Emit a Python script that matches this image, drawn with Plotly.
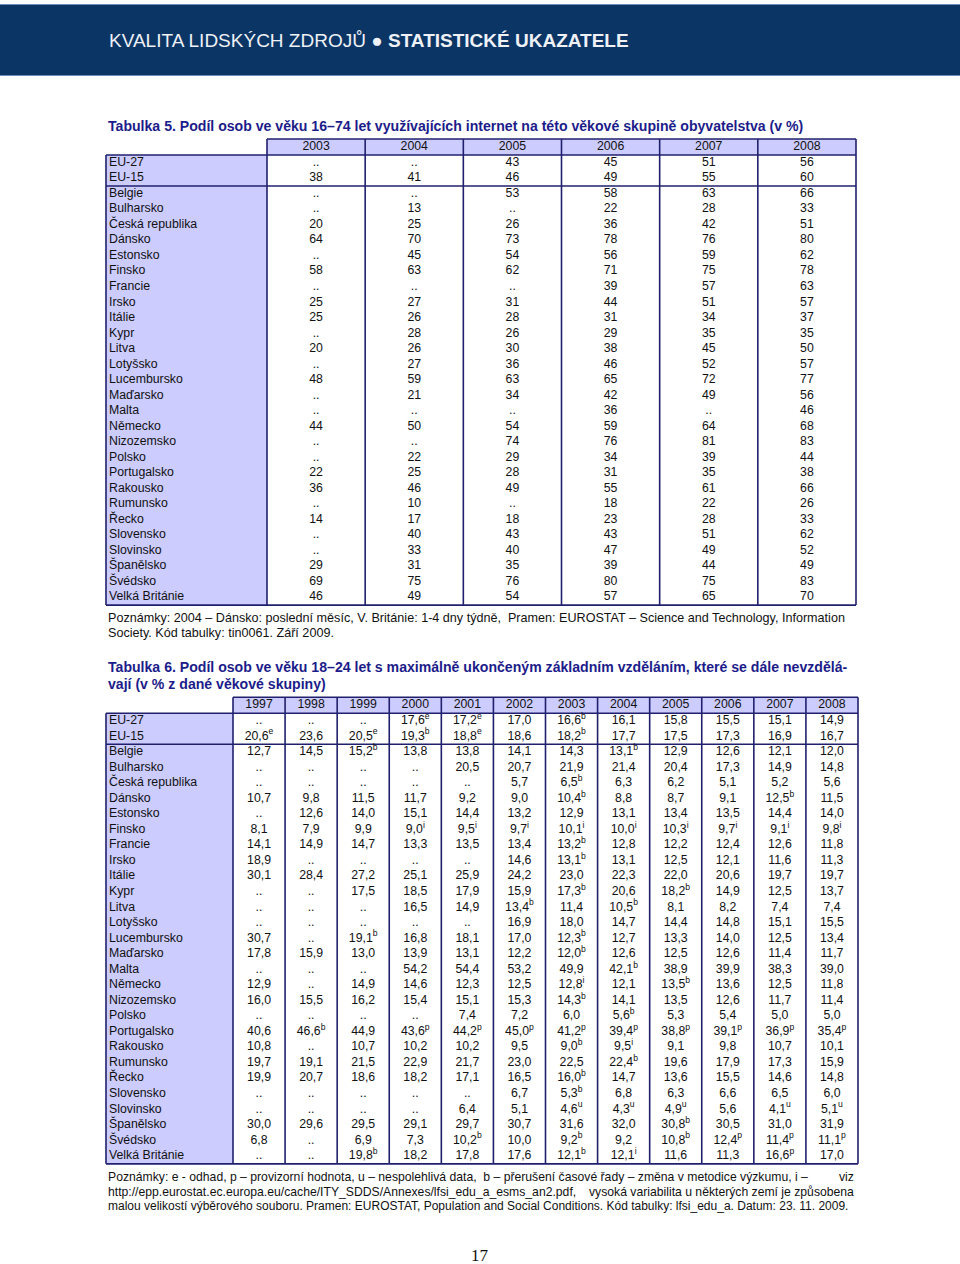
import plotly.graph_objects as go

W, H = 960, 1264
NAVY = "#20206e"
LAVENDER = "#ccccff"
TITLE_BLUE = "#1c1c8a"
BAND = "#0b3565"
INK = "#111111"
SANS = "Liberation Sans, Arial, sans-serif"

countries = [
    "EU-27", "EU-15", "Belgie", "Bulharsko", "Česká republika", "Dánsko",
    "Estonsko", "Finsko", "Francie", "Irsko", "Itálie", "Kypr", "Litva",
    "Lotyšsko", "Lucembursko", "Maďarsko", "Malta", "Německo", "Nizozemsko",
    "Polsko", "Portugalsko", "Rakousko", "Rumunsko", "Řecko", "Slovensko",
    "Slovinsko", "Španělsko", "Švédsko", "Velká Británie",
]

# Tabulka 5 - internet users 16-74 (%), None = ".."
t5_years = ["2003", "2004", "2005", "2006", "2007", "2008"]
net_2003 = [None, 38, None, None, 20, 64, None, 58, None, 25, 25, None, 20, None, 48,
            None, None, 44, None, None, 22, 36, None, 14, None, None, 29, 69, 46]
net_2004 = [None, 41, None, 13, 25, 70, 45, 63, None, 27, 26, 28, 26, 27, 59,
            21, None, 50, None, 22, 25, 46, 10, 17, 40, 33, 31, 75, 49]
net_2005 = [43, 46, 53, None, 26, 73, 54, 62, None, 31, 28, 26, 30, 36, 63,
            34, None, 54, 74, 29, 28, 49, None, 18, 43, 40, 35, 76, 54]
net_2006 = [45, 49, 58, 22, 36, 78, 56, 71, 39, 44, 31, 29, 38, 46, 65,
            42, 36, 59, 76, 34, 31, 55, 18, 23, 43, 47, 39, 80, 57]
net_2007 = [51, 55, 63, 28, 42, 76, 59, 75, 57, 51, 34, 35, 45, 52, 72,
            49, None, 64, 81, 39, 35, 61, 22, 28, 51, 49, 44, 75, 65]
net_2008 = [56, 60, 66, 33, 51, 80, 62, 78, 63, 57, 37, 35, 50, 57, 77,
            56, 46, 68, 83, 44, 38, 66, 26, 33, 62, 52, 49, 83, 70]

# Tabulka 6 - early school leavers 18-24 (%), trailing letter = note flag
t6_years = ["1997", "1998", "1999", "2000", "2001", "2002",
            "2003", "2004", "2005", "2006", "2007", "2008"]
edu_1997 = ["..", "20,6e", "12,7", "..", "..", "10,7", "..", "8,1", "14,1", "18,9", "30,1", "..", "..", "..", "30,7",
            "17,8", "..", "12,9", "16,0", "..", "40,6", "10,8", "19,7", "19,9", "..", "..", "30,0", "6,8", ".."]
edu_1998 = ["..", "23,6", "14,5", "..", "..", "9,8", "12,6", "7,9", "14,9", "..", "28,4", "..", "..", "..", "..",
            "15,9", "..", "..", "15,5", "..", "46,6b", "..", "19,1", "20,7", "..", "..", "29,6", "..", ".."]
edu_1999 = ["..", "20,5e", "15,2b", "..", "..", "11,5", "14,0", "9,9", "14,7", "..", "27,2", "17,5", "..", "..", "19,1b",
            "13,0", "..", "14,9", "16,2", "..", "44,9", "10,7", "21,5", "18,6", "..", "..", "29,5", "6,9", "19,8b"]
edu_2000 = ["17,6e", "19,3b", "13,8", "..", "..", "11,7", "15,1", "9,0i", "13,3", "..", "25,1", "18,5", "16,5", "..", "16,8",
            "13,9", "54,2", "14,6", "15,4", "..", "43,6p", "10,2", "22,9", "18,2", "..", "..", "29,1", "7,3", "18,2"]
edu_2001 = ["17,2e", "18,8e", "13,8", "20,5", "..", "9,2", "14,4", "9,5i", "13,5", "..", "25,9", "17,9", "14,9", "..", "18,1",
            "13,1", "54,4", "12,3", "15,1", "7,4", "44,2p", "10,2", "21,7", "17,1", "..", "6,4", "29,7", "10,2b", "17,8"]
edu_2002 = ["17,0", "18,6", "14,1", "20,7", "5,7", "9,0", "13,2", "9,7i", "13,4", "14,6", "24,2", "15,9", "13,4b", "16,9", "17,0",
            "12,2", "53,2", "12,5", "15,3", "7,2", "45,0p", "9,5", "23,0", "16,5", "6,7", "5,1", "30,7", "10,0", "17,6"]
edu_2003 = ["16,6b", "18,2b", "14,3", "21,9", "6,5b", "10,4b", "12,9", "10,1i", "13,2b", "13,1b", "23,0", "17,3b", "11,4", "18,0", "12,3b",
            "12,0b", "49,9", "12,8i", "14,3b", "6,0", "41,2p", "9,0b", "22,5", "16,0b", "5,3b", "4,6u", "31,6", "9,2b", "12,1b"]
edu_2004 = ["16,1", "17,7", "13,1b", "21,4", "6,3", "8,8", "13,1", "10,0i", "12,8", "13,1", "22,3", "20,6", "10,5b", "14,7", "12,7",
            "12,6", "42,1b", "12,1", "14,1", "5,6b", "39,4p", "9,5i", "22,4b", "14,7", "6,8", "4,3u", "32,0", "9,2", "12,1i"]
edu_2005 = ["15,8", "17,5", "12,9", "20,4", "6,2", "8,7", "13,4", "10,3i", "12,2", "12,5", "22,0", "18,2b", "8,1", "14,4", "13,3",
            "12,5", "38,9", "13,5b", "13,5", "5,3", "38,8p", "9,1", "19,6", "13,6", "6,3", "4,9u", "30,8b", "10,8b", "11,6"]
edu_2006 = ["15,5", "17,3", "12,6", "17,3", "5,1", "9,1", "13,5", "9,7i", "12,4", "12,1", "20,6", "14,9", "8,2", "14,8", "14,0",
            "12,6", "39,9", "13,6", "12,6", "5,4", "39,1p", "9,8", "17,9", "15,5", "6,6", "5,6", "30,5", "12,4p", "11,3"]
edu_2007 = ["15,1", "16,9", "12,1", "14,9", "5,2", "12,5b", "14,4", "9,1i", "12,6", "11,6", "19,7", "12,5", "7,4", "15,1", "12,5",
            "11,4", "38,3", "12,5", "11,7", "5,0", "36,9p", "10,7", "17,3", "14,6", "6,5", "4,1u", "31,0", "11,4p", "16,6p"]
edu_2008 = ["14,9", "16,7", "12,0", "14,8", "5,6", "11,5", "14,0", "9,8i", "11,8", "11,3", "19,7", "13,7", "7,4", "15,5", "13,4",
            "11,7", "39,0", "11,8", "11,4", "5,0", "35,4p", "10,1", "15,9", "14,8", "6,0", "5,1u", "31,9", "11,1p", "17,0"]

net_cols = [net_2003, net_2004, net_2005, net_2006, net_2007, net_2008]
edu_cols = [edu_1997, edu_1998, edu_1999, edu_2000, edu_2001, edu_2002,
            edu_2003, edu_2004, edu_2005, edu_2006, edu_2007, edu_2008]


def fmt_net(v):
    return ".." if v is None else str(v)


def fmt_edu(s):
    if s[-1].isalpha():
        return f"{s[:-1]}<sup>{s[-1]}</sup>"
    return s


fig = go.Figure()
shapes = []


def rect(x0, y0, x1, y1, fill):
    shapes.append(dict(type="rect", x0=x0, y0=y0, x1=x1, y1=y1, fillcolor=fill,
                       line=dict(width=0), layer="below"))


def line(x0, y0, x1, y1, color=NAVY, width=1.6):
    shapes.append(dict(type="line", x0=x0, y0=y0, x1=x1, y1=y1,
                       line=dict(color=color, width=width), layer="below"))


def draw_table(years, cols, fmt, left, label_right, right, head_top, pitch):
    head_h = 16
    body_top = head_top + head_h
    n = len(countries)
    bottom = body_top + n * pitch
    cw = (right - label_right) / len(years)
    edges = [label_right + cw * k for k in range(len(years) + 1)]
    centers = [label_right + cw * (k + 0.5) for k in range(len(years))]
    rows = [body_top + pitch * (i + 0.5) for i in range(n)]

    rect(left, body_top, label_right, bottom, LAVENDER)
    rect(label_right, head_top, right, body_top, LAVENDER)
    for x in edges:
        line(x, head_top, x, bottom)
    line(left, body_top, left, bottom)
    line(label_right, head_top, right, head_top)
    line(left, body_top, right, body_top)
    line(left, body_top + 2 * pitch, right, body_top + 2 * pitch)
    line(left, bottom, right, bottom)

    font = dict(family=SANS, size=12.3, color=INK)
    fig.add_trace(go.Scatter(x=centers, y=[head_top + head_h / 2] * len(years), text=years,
                             mode="text", textposition="middle center", textfont=font,
                             hoverinfo="skip", cliponaxis=False))
    fig.add_trace(go.Scatter(x=[left + 3] * n, y=rows, text=countries,
                             mode="text", textposition="middle right", textfont=font,
                             hoverinfo="skip", cliponaxis=False))
    for cx, col in zip(centers, cols):
        fig.add_trace(go.Scatter(x=[cx] * n, y=rows, text=[fmt(v) for v in col],
                                 mode="text", textposition="middle center", textfont=font,
                                 hoverinfo="skip", cliponaxis=False))


# page header band
rect(0, 4, W, 76, BAND)
line(0, 4.5, W, 4.5, color="#6d8fbb", width=1)
line(0, 75.5, W, 75.5, color="#6d8fbb", width=1)

draw_table(t5_years, net_cols, fmt_net, 106, 267, 856, 139, 15.52)
draw_table(t6_years, edu_cols, fmt_edu, 106, 233, 858, 697.2, 15.54)

notes = [
    (107, 40, "KVALITA LIDSKÝCH ZDROJŮ ● <b>STATISTICKÉ UKAZATELE</b>", 19, "#eef1f6"),
    (106, 126, "<b>Tabulka 5. Podíl osob ve věku 16–74 let využívajících internet na této věkové skupině obyvatelstva (v %)</b>",
     14.1, TITLE_BLUE),
    (106, 618, "Poznámky: 2004 – Dánsko: poslední měsíc, V. Británie: 1-4 dny týdně,  Pramen: EUROSTAT – Science and Technology, Information",
     12.6, INK),
    (106, 633, "Society. Kód tabulky: tin0061. Září 2009.", 12.6, INK),
    (106, 667, "<b>Tabulka 6. Podíl osob ve věku 18–24 let s maximálně ukončeným základním vzděláním, které se dále nevzdělá-</b>",
     14.1, TITLE_BLUE),
    (106, 684, "<b>vají (v % z dané věkové skupiny)</b>", 14.1, TITLE_BLUE),
    (106, 1177, "Poznámky: e - odhad, p – provizorní hodnota, u – nespolehlivá data,  b – přerušení časové řady – změna v metodice výzkumu, i –",
     12.2, INK),
    (106, 1192, "http://epp.eurostat.ec.europa.eu/cache/ITY_SDDS/Annexes/lfsi_edu_a_esms_an2.pdf,", 12.2, INK),
    (106, 1206, "malou velikostí výběrového souboru. Pramen: EUROSTAT, Population and Social Conditions. Kód tabulky: lfsi_edu_a. Datum: 23. 11. 2009.",
     12, INK),
]
annotations = [dict(x=x, y=y, text=t, xanchor="left", yanchor="middle", showarrow=False,
                    font=dict(family=SANS, size=s, color=c)) for x, y, t, s, c in notes]
annotations += [
    dict(x=856, y=1177, text="viz", xanchor="right", yanchor="middle", showarrow=False,
         font=dict(family=SANS, size=12.2, color=INK)),
    dict(x=856, y=1192, text="vysoká variabilita u některých zemí je způsobena", xanchor="right",
         yanchor="middle", showarrow=False, font=dict(family=SANS, size=12.2, color=INK)),
    dict(x=480, y=1255, text="17", xanchor="center", yanchor="middle", showarrow=False,
         font=dict(family="Liberation Serif, Times New Roman, serif", size=17, color=INK)),
]

fig.update_layout(
    width=W, height=H, margin=dict(l=0, r=0, t=0, b=0),
    paper_bgcolor="white", plot_bgcolor="white", showlegend=False,
    xaxis=dict(range=[0, W], visible=False, fixedrange=True),
    yaxis=dict(range=[H, 0], visible=False, fixedrange=True),
    shapes=shapes, annotations=annotations,
)

# drop the default body margin so the page sits at the window origin
fig.write_html("out.html", config={"displayModeBar": False},
               post_script="document.body.style.margin = '0';")
